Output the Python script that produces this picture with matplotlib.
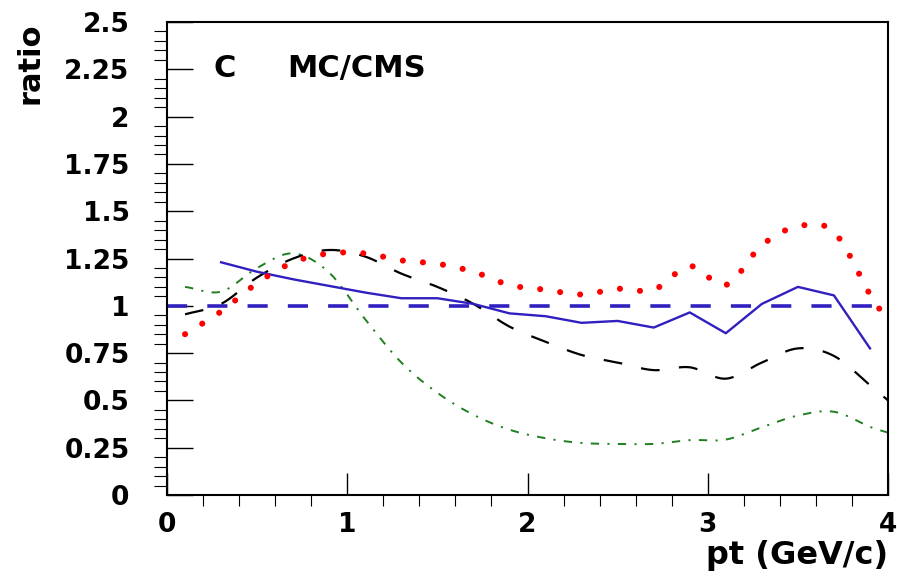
import numpy as np
import matplotlib
matplotlib.use("Agg")
import matplotlib.pyplot as plt
from matplotlib.ticker import MultipleLocator, FuncFormatter

# bin centres in pt (GeV/c)
pt_bins = [0.1, 0.3, 0.5, 0.7, 0.9, 1.1, 1.3, 1.5, 1.7, 1.9,
           2.1, 2.3, 2.5, 2.7, 2.9, 3.1, 3.3, 3.5, 3.7, 3.9]
pt_curve = pt_bins + [4.0]

ratio_red = [0.85, 0.97, 1.12, 1.23, 1.277, 1.277, 1.24, 1.222, 1.18, 1.11,
             1.085, 1.06, 1.09, 1.085, 1.21, 1.11, 1.32, 1.42, 1.39, 1.06, 0.92]
ratio_black = [0.955, 1.01, 1.15, 1.25, 1.295, 1.26, 1.17, 1.10, 1.01, 0.89,
               0.81, 0.74, 0.70, 0.66, 0.675, 0.615, 0.70, 0.775, 0.735, 0.58, 0.50]
ratio_green = [1.10, 1.075, 1.20, 1.277, 1.175, 0.928, 0.70, 0.54, 0.424, 0.345,
               0.30, 0.275, 0.27, 0.27, 0.29, 0.293, 0.358, 0.42, 0.44, 0.36, 0.33]

pt_blue = pt_bins[1:]
ratio_blue = [1.23, 1.18, 1.14, 1.105, 1.07, 1.04, 1.04, 1.01, 0.96, 0.945,
              0.91, 0.92, 0.885, 0.965, 0.855, 1.01, 1.10, 1.055, 0.775]

unity = 1.0


def smooth(x, y, n=20):
    # catmull-rom through the points, like a "C" draw option
    x = np.asarray(x, float)
    y = np.asarray(y, float)
    px = np.concatenate([[2 * x[0] - x[1]], x, [2 * x[-1] - x[-2]]])
    py = np.concatenate([[2 * y[0] - y[1]], y, [2 * y[-1] - y[-2]]])
    t = np.linspace(0, 1, n, endpoint=False)
    xs, ys = [], []
    for i in range(len(x) - 1):
        for p, out in ((px, xs), (py, ys)):
            p0, p1, p2, p3 = p[i:i + 4]
            out.append(0.5 * (2 * p1 + (-p0 + p2) * t
                              + (2 * p0 - 5 * p1 + 4 * p2 - p3) * t ** 2
                              + (-p0 + 3 * p1 - 3 * p2 + p3) * t ** 3))
    return np.append(np.concatenate(xs), x[-1]), np.append(np.concatenate(ys), y[-1])


plt.rcParams["lines.scale_dashes"] = False
plt.rcParams["font.family"] = "DejaVu Sans"
plt.rcParams["font.weight"] = "bold"

fig = plt.figure(figsize=(8.97, 5.84), dpi=100)
ax = fig.add_axes([0.1862, 0.1524, 0.8038, 0.8099])

ax.plot([0, 4], [unity, unity], color="#3020c0", lw=2.6, dashes=(14.5, 14.5))

gx, gy = smooth(pt_curve, ratio_green)
ax.plot(gx, gy, color="#1f7f1f", lw=1.4, dashes=(6, 6, 1.5, 6))

bx, by = smooth(pt_curve, ratio_black)
ax.plot(bx, by, color="black", lw=1.6, dashes=(13.5, 14))

ax.plot(pt_blue, ratio_blue, color="#3020c0", lw=1.7)

rx, ry = smooth(pt_curve, ratio_red)
ax.plot(rx, ry, color="red", lw=4.4, dashes=(0.01, 14.5),
        dash_capstyle="round")

ax.set_xlim(0, 4)
ax.set_ylim(0, 2.5)

ax.xaxis.set_major_locator(MultipleLocator(1))
ax.xaxis.set_minor_locator(MultipleLocator(0.2))
ax.yaxis.set_major_locator(MultipleLocator(0.25))
ax.yaxis.set_minor_locator(MultipleLocator(0.05))
ax.yaxis.set_major_formatter(FuncFormatter(lambda v, p: "%g" % v))

ax.tick_params(axis="both", direction="in", top=False, right=False,
               labelsize=19, width=1.0)
ax.tick_params(axis="y", which="major", length=19, pad=27)
ax.tick_params(axis="y", which="minor", length=9.5, width=0.8)
ax.tick_params(axis="x", which="major", length=16, pad=12)
ax.tick_params(axis="x", which="minor", length=8, width=0.8)
for s in ax.spines.values():
    s.set_linewidth(1.5)

ax.set_xlabel("pt (GeV/c)", fontsize=23, fontweight="bold", loc="right",
              labelpad=2)
ax.set_ylabel("ratio", fontsize=22, fontweight="bold", loc="top", labelpad=14)

ax.text(0.256, 2.21, "C", fontsize=22, fontweight="bold")
ax.text(0.667, 2.21, "MC/CMS", fontsize=22, fontweight="bold")

fig.savefig("out.png", dpi=100)
